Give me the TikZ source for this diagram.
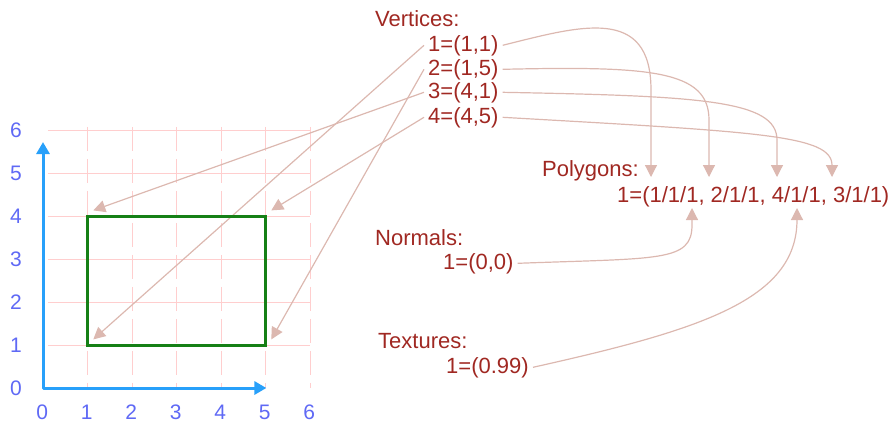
\documentclass[tikz,border=0pt]{standalone}
\usepackage{fontspec}
\setmainfont{Liberation Sans}
\usetikzlibrary{arrows.meta}

\definecolor{tekstrood}{RGB}{160,40,34}
\definecolor{pijlroze}{RGB}{220,184,176}
\definecolor{rasterroze}{RGB}{255,206,206}
\definecolor{asblauw}{RGB}{40,160,250}
\definecolor{cijferblauw}{RGB}{95,105,245}
\definecolor{vlakgroen}{RGB}{22,128,22}

\begin{document}
\begin{tikzpicture}[x=1pt, y=-1pt,
    tekst/.style={anchor=base west, inner sep=4pt, text=tekstrood, font=\fontsize{22}{24}\selectfont},
    cijfer/.style={inner sep=0pt, text=cijferblauw, font=\fontsize{21}{24}\selectfont},
    pijl/.style={draw=pijlroze, line width=1.2pt, -{Triangle[length=12pt, width=12pt]}}]
    \useasboundingbox (0,0) rectangle (895,424);

    % Lijsten
    \node[tekst] (vert) at (371,26) {Vertices:};
    \node[tekst] (v1) at (424,51) {1=(1,1)};
    \node[tekst] (v2) at (424,75) {2=(1,5)};
    \node[tekst] (v3) at (424,98) {3=(4,1)};
    \node[tekst] (v4) at (424,123) {4=(4,5)};
    \node[tekst] (poly) at (538,176) {Polygons:};
    \node[tekst] (p1) at (613,202) {1=(1/1/1, 2/1/1, 4/1/1, 3/1/1)};
    \node[tekst] (norm) at (371,245) {Normals:};
    \node[tekst] (n1) at (439,269) {1=(0,0)};
    \node[tekst] (tex) at (374,348) {Textures:};
    \node[tekst] (t1) at (442,373) {1=(0.99)};

    % Pijlpunten boven de polygoon
    \coordinate (q1) at (651,177);
    \coordinate (q2) at (709,177);
    \coordinate (q3) at (777,177);
    \coordinate (q4) at (832,177);
    \coordinate (qn) at (692,208);
    \coordinate (qt) at (797,208);

    \begin{scope}[shift={(43,388)}, x=44.5pt, y=43pt]
        % Punten
        \coordinate (O) at (0,0);
        \coordinate (X) at (5.02,0);
        \coordinate (Y) at (0,5.72);
        \coordinate (A) at (1.13,1.13);
        \coordinate (B) at (5.13,1.13);
        \coordinate (C) at (1.13,4.13);
        \coordinate (D) at (5.13,4.13);

        % Raster
        \foreach \k in {1,...,6} {
            \draw[rasterroze, line width=1pt] (0.11,\k) -- (6,\k);
            \draw[rasterroze, line width=1pt, dash pattern=on 24pt off 8pt] (\k,6.07) -- (\k,0);
        }

        % Assen
        \draw[asblauw, line width=3pt, line join=round,
              {Triangle[length=12pt, width=13pt]}-{Triangle[length=12pt, width=13pt]}] (Y) -- (O) -- (X);
        \foreach \k in {0,...,6} {
            \node[cijfer] (xl\k) at (\k-0.02,-0.56) {\k};
            \node[cijfer] (yl\k) at (-0.61,\k) {\k};
        }
    \end{scope}

    % Vertices naar de hoekpunten
    \draw[pijl] (v1.west) -- (A);
    \draw[pijl] (v2.west) -- (B);
    \draw[pijl] (v3.west) -- (C);
    \draw[pijl] (v4.west) -- (D);

    % Rechthoek
    \begin{scope}[shift={(43,388)}, x=44.5pt, y=43pt]
        \draw[vlakgroen, line width=3pt] (1,1) rectangle (5,4);
    \end{scope}

    % Verwijzingen naar de polygoon
    \draw[pijl] (v1.east) .. controls (580,26) and (651,5) .. (651,90) -- (q1);
    \draw[pijl] (v2.east) .. controls (650,66) and (709,70) .. (709,120) -- (q2);
    \draw[pijl] (v3.east) .. controls (700,96) and (777,100) .. (777,140) -- (q3);
    \draw[pijl] (v4.east) .. controls (760,132) and (832,135) .. (q4);
    \draw[pijl] (n1.east) .. controls (660,258) and (692,262) .. (692,225) -- (qn);
    \draw[pijl] (t1.east) .. controls (700,330) and (797,300) .. (qt);
\end{tikzpicture}
\end{document}
